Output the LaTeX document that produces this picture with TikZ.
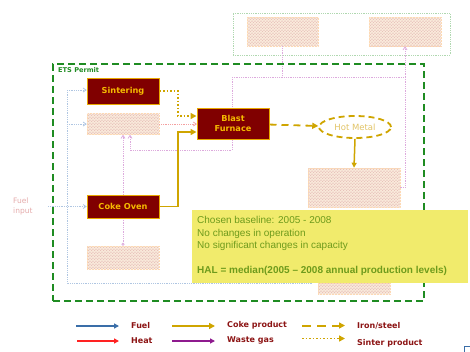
\documentclass[tikz,border=0pt]{standalone}
\usepackage{fontspec}
\setmainfont{Liberation Sans}
\newfontfamily\dvs{DejaVu Sans}
\usetikzlibrary{arrows.meta,shapes.geometric,patterns}
\definecolor{boxred}{HTML}{800000}
\definecolor{boxgold}{HTML}{E8A800}
\definecolor{boxtext}{HTML}{F5BA00}
\definecolor{gold}{HTML}{CFA500}
\definecolor{hmtext}{HTML}{E2C466}
\definecolor{etsgreen}{HTML}{1F8C22}
\definecolor{noteyel}{HTML}{F1EB6C}
\definecolor{notetxt}{HTML}{6E9B1C}
\definecolor{legred}{HTML}{8C1414}
\definecolor{fuelblue}{HTML}{3A6EA8}
\definecolor{heatred}{HTML}{FF2222}
\definecolor{wastepur}{HTML}{8E1A8E}
\definecolor{fadeblue}{HTML}{AFC6E2}
\definecolor{fadepink}{HTML}{DDAADD}
\definecolor{fadegreen}{HTML}{B0D8B0}
\definecolor{fadered}{HTML}{F4A0A0}
\definecolor{fadetext}{HTML}{E4AAAA}
\definecolor{hatchc}{HTML}{D9A0A0}
\definecolor{hatchbg}{HTML}{FCF0E0}
\begin{document}
\begin{tikzpicture}[x=1pt,y=-1pt,
  proc/.style={draw=boxgold, line width=1pt, fill=boxred, text=boxtext,
    font=\dvs\bfseries\fontsize{8.2}{10}\selectfont, minimum width=72pt, align=center, inner sep=1pt},
  hatch/.style={draw=hatchbg!80!orange, line width=0.5pt, densely dotted, preaction={fill=hatchbg}, pattern=crosshatch,
    pattern color=hatchc, inner sep=0pt},
  fadeb/.style={fadeblue, densely dotted, line width=0.8pt},
  fadep/.style={fadepink, densely dotted, line width=0.8pt},
  fadetip/.style={-{Straight Barb[length=3pt,width=4pt]}},
  goldsolid/.style={gold, line width=1.8pt, -{Triangle[length=6pt,width=6pt]}},
  golddash/.style={gold, line width=1.8pt, dash pattern=on 7pt off 5pt, -{Triangle[length=6pt,width=6pt]}},
  golddot/.style={gold, line width=1.5pt, dash pattern=on 1.5pt off 2pt, -{Triangle[length=6pt,width=6pt]}},
  legtext/.style={text=legred, font=\dvs\bfseries\fontsize{8}{10}\selectfont, anchor=west, inner sep=0pt},
  notetext/.style={text=notetxt, font=\fontsize{10}{12}\selectfont, anchor=base west, inner sep=0pt},
  thinarrow/.style={line width=1.3pt, -{Triangle[length=5pt,width=5pt]}}
]
\useasboundingbox (0,0) rectangle (470,351);

% ---------- faded background elements ----------
\node (toprect) [draw=fadegreen, densely dotted, line width=0.8pt, minimum width=217pt, minimum height=42pt] at (341.5,34) {};
\node (htop1) [hatch, minimum width=71pt, minimum height=29pt] at (282.5,31.5) {};
\node (htop2) [hatch, minimum width=72pt, minimum height=29pt] at (405,31.5) {};
\node (hatch1) [hatch, minimum width=72pt, minimum height=21pt] at (123,124) {};
\node (hatch2) [hatch, minimum width=72pt, minimum height=23pt] at (123,257.5) {};
\node (hatch3) [hatch, minimum width=92pt, minimum height=39pt] at (354,187.5) {};
\node (hatch4) [hatch, minimum width=72pt, minimum height=11pt] at (354,288.5) {};
\node (fuelin) [align=left, text=fadetext, font=\dvs\fontsize{7.5}{10}\selectfont, anchor=west, inner sep=0pt] at (13,206) {Fuel\\input};

\coordinate (pL) at (232,77);
\coordinate (pR) at (405,77);
\coordinate (pB) at (232,150);
\draw[fadep] (pL) -- (pR);
\draw[fadep] (htop1.south) -- (htop1.south |- pL);
\draw[fadep,fadetip] (pR) -- (pR |- htop2.south);
\draw[fadep] (pR) |- (hatch3.east);
\draw[fadep,fadetip] (pL) -- (pB) -| ([xshift=7pt]hatch1.south);
\draw[fadep,fadetip] (hatch1.south |- 0,195) -- (hatch1.south);
\draw[fadep,-{Circle[open,length=3pt]}] (hatch1.south |- 0,218) -- (hatch2.north);

\coordinate (bT) at (67,90);
\coordinate (bB) at (67,283);
\coordinate (bE) at (313,283);
\coordinate (fuelstart) at (48,206.5);
\draw[fadeb] (bT) -- (bB) -- (bE);
\draw[fadeb,fadetip] (bT) -- (bT -| hatch1.west);
\draw[fadeb,fadetip] (bT |- hatch1.west) -- (hatch1.west);
\draw[fadeb,fadetip] (fuelstart) -- (fuelstart -| hatch1.west);
\draw[fadered, densely dotted, line width=0.8pt, fadetip] (hatch1.east) -- (197,124);

% ---------- ETS permit ----------
\node (ets) [draw=etsgreen, line width=1.8pt, dash pattern=on 7pt off 4pt, minimum width=371pt, minimum height=237pt] at (238.5,182.5) {};
\node (etslabel) [text=etsgreen, font=\dvs\bfseries\fontsize{6.6}{8}\selectfont, anchor=west, inner sep=0pt] at (58,70) {ETS Permit};

% ---------- main process ----------
\node (sint) [proc, minimum height=26pt] at (123,91) {Sintering};
\node (bf) [proc, minimum height=31pt] at (233,123.5) {Blast\\Furnace};
\node (coke) [proc, minimum height=23pt] at (123,206.5) {Coke Oven};
\node (hm) [ellipse, draw=gold, fill=white, line width=1.8pt, dash pattern=on 6pt off 4pt, minimum width=72pt, minimum height=22pt,
  text=hmtext, font=\dvs\fontsize{8.5}{10}\selectfont, inner sep=0pt] at (355,127) {Hot Metal};

\coordinate (sinterTurn) at (178,91);
\coordinate (cokeTurn) at (178,206.5);
\draw[golddot] (sint.east) -- (sinterTurn) |- ([yshift=7.5pt]bf.west);
\draw[goldsolid] (coke.east) -- (cokeTurn) |- ([yshift=-8.5pt]bf.west);
\draw[golddash] (bf) -- (hm);
\draw[gold, line width=1.5pt, -{Triangle[length=5pt,width=5pt]}] (hm.south) -- (hatch3.north);

% ---------- note ----------
\node (note) [fill=noteyel, minimum width=276pt, minimum height=73pt, inner sep=0pt] at (330,246.5) {};
\node (n1) [notetext] at (197,223.6) {Chosen baseline: 2005 - 2008};
\node (n2) [notetext] at (197,236) {No changes in operation};
\node (n3) [notetext] at (197,248.5) {No significant changes in capacity};
\node (n4) [notetext, font=\bfseries\fontsize{10}{12}\selectfont] at (197,273) {HAL = median(2005 – 2008 annual production levels)};

% ---------- legend ----------
\coordinate (l1a) at (76,326);  \coordinate (l1b) at (119,326);
\coordinate (l2a) at (77,341);  \coordinate (l2b) at (119,341);
\coordinate (l3a) at (172,326); \coordinate (l3b) at (215,326);
\coordinate (l4a) at (172,341); \coordinate (l4b) at (215,341);
\coordinate (l5a) at (302,325.5); \coordinate (l5b) at (345,325.5);
\coordinate (l6a) at (302,338.5); \coordinate (l6b) at (345,338.5);
\draw[thinarrow, fuelblue] (l1a) -- (l1b);
\draw[thinarrow, heatred] (l2a) -- (l2b);
\draw[goldsolid] (l3a) -- (l3b);
\draw[thinarrow, wastepur] (l4a) -- (l4b);
\draw[gold, line width=2pt, dash pattern=on 9pt off 6pt, -{Triangle[length=6pt,width=6pt]}] (l5a) -- (l5b);
\draw[golddot] (l6a) -- (l6b);
\node (t1) [legtext] at (131,325.5) {Fuel};
\node (t2) [legtext] at (131,341) {Heat};
\node (t3) [legtext] at (227,325.5) {Coke product};
\node (t4) [legtext] at (227,340.5) {Waste gas};
\node (t5) [legtext] at (357,325.5) {Iron/steel};
\node (t6) [legtext] at (357,343) {Sinter product};

\node (corner) [draw=fuelblue, line width=1pt, minimum size=16pt, inner sep=0pt] at (472,354) {};
\end{tikzpicture}
\end{document}
